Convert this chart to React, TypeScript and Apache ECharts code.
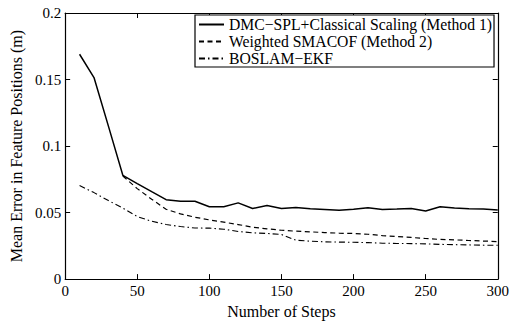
import React, { useEffect, useRef } from "react";
import * as echarts from "echarts";

const steps = [10, 20, 30, 40, 50, 60, 70, 80, 90, 100, 110, 120, 130, 140, 150, 160, 170, 180, 190, 200, 210, 220, 230, 240, 250, 260, 270, 280, 290, 300];
const method1 = [0.169, 0.1515, 0.115, 0.078, 0.0718, 0.0657, 0.0597, 0.0585, 0.0585, 0.0544, 0.0544, 0.0573, 0.0531, 0.0553, 0.0531, 0.0539, 0.0529, 0.0524, 0.0517, 0.0525, 0.0537, 0.0524, 0.0527, 0.0531, 0.0512, 0.0544, 0.0534, 0.0529, 0.0527, 0.052];
const method2Steps = [40, 50, 60, 70, 80, 90, 100, 110, 120, 130, 140, 150, 160, 170, 180, 190, 200, 210, 220, 230, 240, 250, 260, 270, 280, 290, 300];
const method2 = [0.0775, 0.068, 0.06, 0.0525, 0.049, 0.0465, 0.0445, 0.0428, 0.041, 0.039, 0.0378, 0.0367, 0.036, 0.0355, 0.035, 0.0345, 0.0343, 0.0337, 0.0327, 0.032, 0.0313, 0.0305, 0.0298, 0.0295, 0.029, 0.0286, 0.0282];
const boslam = [0.0703, 0.065, 0.059, 0.0534, 0.047, 0.0435, 0.041, 0.0395, 0.0384, 0.0383, 0.0375, 0.0358, 0.0348, 0.0343, 0.0335, 0.0292, 0.0285, 0.028, 0.0278, 0.0277, 0.0274, 0.027, 0.0268, 0.0267, 0.0265, 0.0261, 0.0259, 0.0257, 0.0255, 0.0254];
const seriesNames = ["DMC\u2212SPL+Classical Scaling (Method 1)", "Weighted SMACOF (Method 2)", "BOSLAM\u2212EKF"];

const FONT = "Liberation Serif, serif";

export default function App() {
  const ref = useRef<HTMLDivElement>(null);
  useEffect(() => {
    const chart = echarts.init(ref.current!, null, { renderer: "svg" });
    const pair = (xs: number[], ys: number[]) => xs.map((x, i) => [x, ys[i]]);
    const xBase = { type: "value", min: 0, max: 300, interval: 50, splitLine: { show: false } };
    const yBase = { type: "value", min: 0, max: 0.2, interval: 0.05, splitLine: { show: false } };
    const axisLine = { show: true, onZero: false, lineStyle: { color: "#000", width: 1.2 } };
    const tick = { show: true, inside: true, length: 5, lineStyle: { color: "#000", width: 1 } };
    const lbl = { color: "#000", fontFamily: FONT, fontSize: 15 };
    chart.setOption({
      animation: false,
      backgroundColor: "#fff",
      textStyle: { fontFamily: FONT, color: "#000" },
      grid: { left: 60, top: 13, width: 439, height: 276 },
      xAxis: [
        {
          ...xBase,
          position: "bottom",
          axisLine,
          axisTick: tick,
          axisLabel: { ...lbl, margin: 4 },
          name: "Number of Steps",
          nameLocation: "middle",
          nameGap: 14,
          nameTextStyle: { color: "#000", fontFamily: FONT, fontSize: 16 },
        },
        { ...xBase, position: "top", axisLine, axisTick: tick, axisLabel: { show: false } },
      ],
      yAxis: [
        {
          ...yBase,
          position: "left",
          axisLine,
          axisTick: tick,
          axisLabel: { ...lbl, margin: 4 },
          name: "Mean Error in Feature Positions (m)",
          nameLocation: "middle",
          nameGap: 40,
          nameTextStyle: { color: "#000", fontFamily: FONT, fontSize: 16 },
        },
        { ...yBase, position: "right", axisLine, axisTick: tick, axisLabel: { show: false } },
      ],
      legend: {
        orient: "vertical",
        left: 195,
        top: 15,
        padding: [1, 2, 0, 3],
        itemGap: 0,
        itemWidth: 25,
        itemHeight: 14,
        itemStyle: { opacity: 0 },
        backgroundColor: "#fff",
        borderColor: "#000",
        borderWidth: 1.2,
        borderRadius: 0,
        textStyle: { color: "#000", fontFamily: FONT, fontSize: 15.7, lineHeight: 17 },
        data: seriesNames,
      },
      series: [
        {
          name: seriesNames[0],
          type: "line",
          data: pair(steps, method1),
          symbol: "none",
          lineStyle: { color: "#000", width: 1.5, type: "solid" },
          itemStyle: { color: "#000" },
        },
        {
          name: seriesNames[1],
          type: "line",
          data: pair(method2Steps, method2),
          symbol: "none",
          lineStyle: { color: "#000", width: 1.2, type: [5, 3.5] },
          itemStyle: { color: "#000" },
        },
        {
          name: seriesNames[2],
          type: "line",
          data: pair(steps, boslam),
          symbol: "none",
          lineStyle: { color: "#000", width: 1.1, type: [6, 3, 1.5, 3] },
          itemStyle: { color: "#000" },
        },
      ],
    });
    return () => chart.dispose();
  }, []);
  return <div ref={ref} style={{ position: "fixed", left: 0, top: 0, width: 512, height: 324, background: "#fff" }} />;
}
